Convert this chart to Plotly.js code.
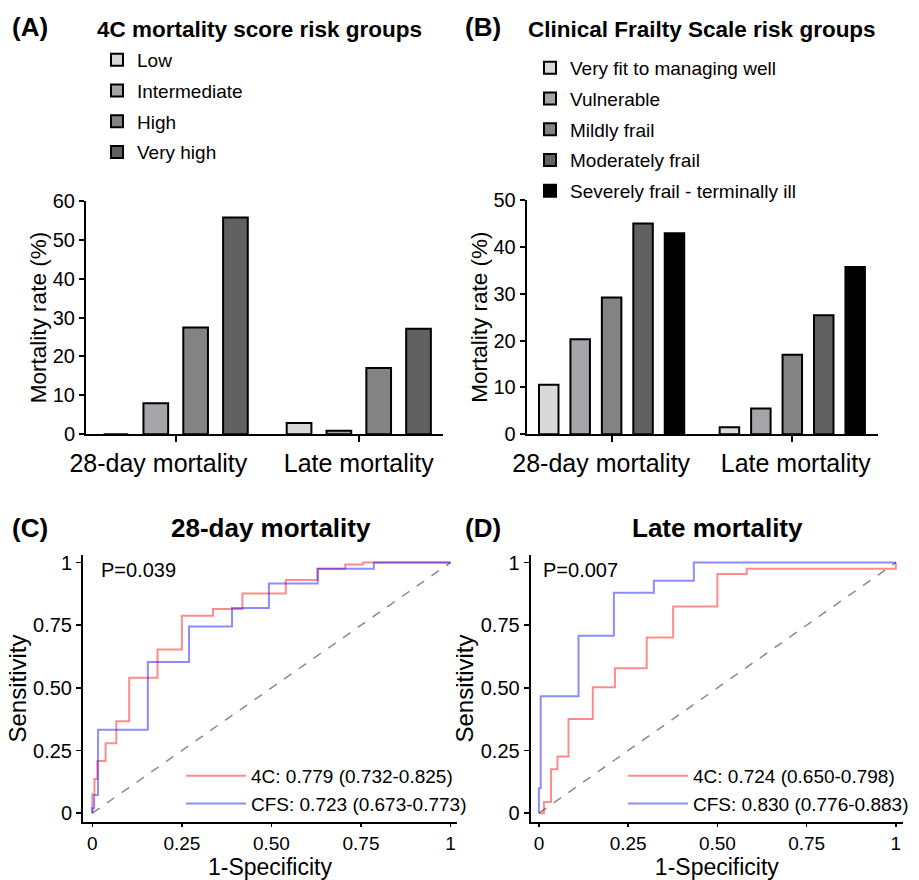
<!DOCTYPE html>
<html><head><meta charset="utf-8">
<script src="https://cdn.plot.ly/plotly-3.0.1.min.js"></script>
<style>html,body{margin:0;padding:0;background:#fff}</style>
</head><body><div id="chart" style="width:919px;height:880px"></div>
<script>
// ---------- data ----------
const periods = ['28-day mortality', 'Late mortality'];

const groups4C = ['Low', 'Intermediate', 'High', 'Very high'];
const fourC_low = [0, 2.9];
const fourC_intermediate = [8.0, 0.9];
const fourC_high = [27.4, 17.0];
const fourC_veryHigh = [55.7, 27.1];

const groupsCFS = ['Very fit to managing well', 'Vulnerable', 'Mildly frail', 'Moderately frail', 'Severely frail - terminally ill'];
const cfs_veryFit = [10.6, 1.5];
const cfs_vulnerable = [20.3, 5.5];
const cfs_mildlyFrail = [29.2, 17.0];
const cfs_moderatelyFrail = [45.0, 25.4];
const cfs_severelyFrail = [42.9, 35.7];

// ROC 28-day mortality
const roc28_4C_fpr = [0, 0, 0.006, 0.014, 0.037, 0.067, 0.103, 0.182, 0.25, 0.337, 0.419, 0.540, 0.629, 0.706, 0.755, 1];
const roc28_4C_tpr = [0, 0.076, 0.137, 0.208, 0.279, 0.367, 0.540, 0.653, 0.788, 0.815, 0.876, 0.930, 0.975, 0.992, 1, 1];
const roc28_CFS_fpr = [0, 0, 0.005, 0.016, 0.155, 0.27, 0.39, 0.493, 0.629, 0.786, 1];
const roc28_CFS_tpr = [0, 0.02, 0.073, 0.333, 0.603, 0.745, 0.819, 0.916, 0.975, 1, 1];
// ROC late mortality
const rocLate_4C_fpr = [0, 0.014, 0.034, 0.052, 0.083, 0.151, 0.213, 0.302, 0.376, 0.5, 0.582, 1, 1];
const rocLate_4C_tpr = [0, 0.045, 0.175, 0.226, 0.376, 0.502, 0.578, 0.701, 0.825, 0.954, 0.975, 0.975, 1];
const rocLate_CFS_fpr = [0, 0, 0.005, 0.111, 0.21, 0.322, 0.434, 1];
const rocLate_CFS_tpr = [0, 0.10, 0.467, 0.708, 0.879, 0.927, 1, 1];
const diagonal = [0, 1];

const rocLabels28 = ['4C: 0.779 (0.732-0.825)', 'CFS: 0.723 (0.673-0.773)'];
const rocLabelsLate = ['4C: 0.724 (0.650-0.798)', 'CFS: 0.830 (0.776-0.883)'];
const rocTickVals = [0, 0.25, 0.5, 0.75, 1];
const rocTickText = ['0', '0.25', '0.50', '0.75', '1'];

// ---------- styling ----------
const FONT = 'Liberation Sans, Arial, Helvetica, sans-serif';
const greys = ['#d9d9d9', '#a5a5a9', '#838383', '#616161', '#000000'];
const W = 919, H = 880;
const px = v => v / W;
const py = v => 1 - v / H;
const NB = n => '\u00a0'.repeat(n);

function barTrace(name, y, color, xa, ya, leg, idx) {
  return {
    type: 'bar', name: name, x: periods, y: y,
    xaxis: xa, yaxis: ya, legend: leg, legendgroup: leg + idx,
    marker: {color: color, line: {color: '#000', width: 2}},
    hoverinfo: 'skip'
  };
}

const traces = [
  barTrace(groups4C[0], fourC_low, greys[0], 'x', 'y', 'legend', 0),
  barTrace(groups4C[1], fourC_intermediate, greys[1], 'x', 'y', 'legend', 1),
  barTrace(groups4C[2], fourC_high, greys[2], 'x', 'y', 'legend', 2),
  barTrace(groups4C[3], fourC_veryHigh, greys[3], 'x', 'y', 'legend', 3),
  barTrace(groupsCFS[0], cfs_veryFit, greys[0], 'x2', 'y2', 'legend2', 0),
  barTrace(groupsCFS[1], cfs_vulnerable, greys[1], 'x2', 'y2', 'legend2', 1),
  barTrace(groupsCFS[2], cfs_mildlyFrail, greys[2], 'x2', 'y2', 'legend2', 2),
  barTrace(groupsCFS[3], cfs_moderatelyFrail, greys[3], 'x2', 'y2', 'legend2', 3),
  barTrace(groupsCFS[4], cfs_severelyFrail, greys[4], 'x2', 'y2', 'legend2', 4),
];

function diag(xa, ya) {
  return {type: 'scatter', mode: 'lines', x: diagonal, y: diagonal, xaxis: xa, yaxis: ya,
    line: {color: '#8a8a8a', width: 1.5, dash: 'dash'}, showlegend: false, hoverinfo: 'skip'};
}
function roc(name, x, y, color, xa, ya, leg, idx) {
  return {type: 'scatter', mode: 'lines', name: name, x: x, y: y, xaxis: xa, yaxis: ya,
    line: {color: color, width: 2, shape: 'hv'}, legend: leg, legendgroup: leg + idx, hoverinfo: 'skip'};
}
const RED = 'rgba(255,0,0,0.45)', BLUE = 'rgba(0,0,255,0.45)';
traces.push(diag('x3', 'y3'));
traces.push(roc(rocLabels28[0], roc28_4C_fpr, roc28_4C_tpr, RED, 'x3', 'y3', 'legend3', 0));
traces.push(roc(rocLabels28[1], roc28_CFS_fpr, roc28_CFS_tpr, BLUE, 'x3', 'y3', 'legend3', 1));
traces.push(diag('x4', 'y4'));
traces.push(roc(rocLabelsLate[0], rocLate_4C_fpr, rocLate_4C_tpr, RED, 'x4', 'y4', 'legend4', 0));
traces.push(roc(rocLabelsLate[1], rocLate_CFS_fpr, rocLate_CFS_tpr, BLUE, 'x4', 'y4', 'legend4', 1));

function barX(domain, range, anchor, ticktext) {
  return {domain: domain, type: 'category', range: range, anchor: anchor, showline: true, linecolor: '#000', linewidth: 2,
    tickvals: periods, ticktext: ticktext, tickangle: 0,
    ticks: 'outside', ticklen: 6, tickwidth: 2, tickcolor: '#000', tickfont: {size: 25, color: '#000'},
    showgrid: false, zeroline: false, fixedrange: true};
}
function barY(domain, range, anchor) {
  return {domain: domain, range: range, dtick: 10, anchor: anchor, showline: true, linecolor: '#000', linewidth: 2,
    ticks: 'outside', ticklen: 5, tickwidth: 2, tickcolor: '#000', tickfont: {size: 20, color: '#000'},
    showgrid: false, zeroline: false, fixedrange: true,
    title: {text: 'Mortality rate (%)', font: {size: 22.5, color: '#000'}, standoff: 0}};
}
function rocX(domain, range, anchor) {
  return {domain: domain, range: range, anchor: anchor, tickvals: rocTickVals, ticktext: rocTickText,
    showline: true, linecolor: '#000', linewidth: 2, ticks: 'outside', ticklen: 3, tickwidth: 1.5, tickcolor: '#000',
    tickfont: {size: 19, color: '#000'}, showgrid: false, zeroline: false, fixedrange: true,
    title: {text: '1-Specificity', font: {size: 23, color: '#000'}, standoff: 7}};
}
function rocY(domain, range, anchor) {
  return {domain: domain, range: range, anchor: anchor, tickvals: rocTickVals, ticktext: rocTickText,
    showline: true, linecolor: '#000', linewidth: 2, ticks: 'outside', ticklen: 5, tickwidth: 1.5, tickcolor: '#000',
    tickfont: {size: 20, color: '#000'}, showgrid: false, zeroline: false, fixedrange: true,
    title: {text: 'Sensitivity', font: {size: 24, color: '#000'}, standoff: 0}};
}

function barLegend(x, y) {
  return {x: x, y: y, xanchor: 'left', yanchor: 'top', bgcolor: 'rgba(0,0,0,0)', traceorder: 'grouped',
    tracegroupgap: 3, font: {size: 19, color: '#000'}};
}
function rocLegend(x, y) {
  return {x: x, y: y, xanchor: 'left', yanchor: 'top', bgcolor: 'rgba(0,0,0,0)', traceorder: 'grouped',
    tracegroupgap: 0, font: {size: 19, color: '#000'}, itemwidth: 60};
}

const ann = [];
function label(text, x, y, size, anchor, bold) {
  ann.push({text: bold ? '<b>' + text + '</b>' : text, x: x, y: y, xref: 'paper', yref: 'paper',
    xanchor: anchor, yanchor: 'middle', showarrow: false, font: {size: size, color: '#000'}});
}
label('(A)', px(10), py(27), 26, 'left', true);
label('(B)', px(463), py(27), 26, 'left', true);
label('(C)', px(10), py(528), 26, 'left', true);
label('(D)', px(463), py(528), 26, 'left', true);
label('4C mortality score risk groups', px(95), py(30), 22.5, 'left', true);
label('Clinical Frailty Scale risk groups', px(526), py(30), 22.5, 'left', true);
label('28-day mortality', px(271), py(528), 26, 'center', true);
label('Late mortality', px(717), py(528), 26, 'center', true);
label('P=0.039', px(99), py(570), 20, 'left', false);
label('P=0.007', px(541), py(570), 20, 'left', false);

const layout = {
  width: W, height: H, margin: {l: 0, r: 0, t: 0, b: 0},
  paper_bgcolor: '#fff', plot_bgcolor: 'rgba(0,0,0,0)',
  font: {family: FONT, color: '#000'},
  barmode: 'group', bargap: 0.13, bargroupgap: 0.38,
  showlegend: true,
  xaxis: barX([px(86), px(443)], [-0.49, 1.46], 'y', [periods[0] + NB(5), periods[1]]),
  yaxis: barY([1 - 434.3 / H, 1 - 200.7 / H], [0, 60], 'x'),
  xaxis2: barX([px(526.7), px(878.3)], [-0.47, 1.476], 'y2', [periods[0] + NB(3), NB(1) + periods[1]]),
  yaxis2: barY([1 - 434.3 / H, 1 - 200 / H], [0, 50], 'x2'),
  xaxis3: rocX([px(83), px(457)], [-0.026, 1.018], 'y3'),
  yaxis3: rocY([1 - 822 / H, 1 - 555 / H], [-0.035, 1.03], 'x3'),
  xaxis4: rocX([px(530.7), px(903)], [-0.023, 1.02], 'y4'),
  yaxis4: rocY([1 - 822 / H, 1 - 555 / H], [-0.035, 1.03], 'x4'),
  legend: barLegend(px(97), py(41)),
  legend2: barLegend(px(530), py(49)),
  legend3: rocLegend(px(181), py(757)),
  legend4: rocLegend(px(623), py(757)),
  annotations: ann
};

Plotly.newPlot('chart', traces, layout, {displayModeBar: false, staticPlot: true});
</script></body></html>
